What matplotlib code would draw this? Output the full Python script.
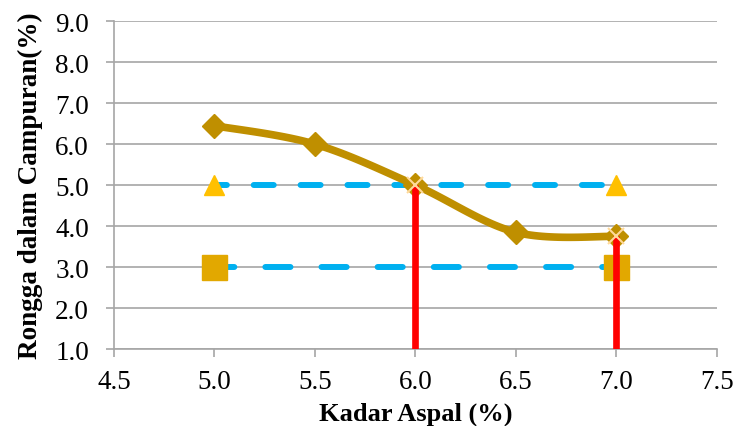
import numpy as np
import matplotlib.pyplot as plt

plt.rcParams['font.family'] = ['Liberation Serif', 'DejaVu Serif']

# data
kadar = [5.0, 5.5, 6.0, 6.5, 7.0]
rongga = [6.45, 6.0, 5.0, 3.85, 3.75]
batas_x = [5.0, 7.0]
batas_atas = [5.0, 5.0]
batas_bawah = [3.0, 3.0]
garis_x = [6.0, 7.0]
garis_y = [5.0, 3.75]


def smooth(xs, ys, n=30):
    # Excel-like smoothed line (Bezier with Catmull-Rom control points)
    p = np.column_stack([xs, ys])
    pts = []
    for i in range(len(p) - 1):
        p0 = p[i - 1] if i > 0 else p[i]
        p3 = p[i + 2] if i + 2 < len(p) else p[i + 1]
        c1 = p[i] + (p[i + 1] - p0) / 6
        c2 = p[i + 1] - (p3 - p[i]) / 6
        t = np.linspace(0, 1, n)[:, None]
        seg = ((1 - t) ** 3 * p[i] + 3 * (1 - t) ** 2 * t * c1
               + 3 * (1 - t) * t ** 2 * c2 + t ** 3 * p[i + 1])
        pts.append(seg if i == 0 else seg[1:])
    s = np.vstack(pts)
    return s[:, 0], s[:, 1]


fig = plt.figure(figsize=(7.35, 4.27), dpi=100)
ax = fig.add_axes([0.155, 0.180, 0.8205, 0.768])

ax.set_xlim(4.5, 7.5)
ax.set_ylim(1.0, 9.0)
ax.set_xticks(np.arange(4.5, 7.51, 0.5))
ax.set_yticks(np.arange(1.0, 9.01, 1.0))
ax.set_xticklabels([f"{v:.1f}" for v in np.arange(4.5, 7.51, 0.5)])
ax.set_yticklabels([f"{v:.1f}" for v in np.arange(1.0, 9.01, 1.0)])
ax.grid(axis='y', color='#a6a6a6', lw=1.2)
ax.set_axisbelow(True)
for s in ['top', 'right']:
    ax.spines[s].set_visible(False)
for s in ['left', 'bottom']:
    ax.spines[s].set_color('#a6a6a6')
    ax.spines[s].set_linewidth(1.2)
ax.tick_params(colors='#a6a6a6', labelcolor='black', labelsize=19.5, length=6, width=1.2)
ax.tick_params(axis='x', pad=8)
ax.tick_params(axis='y', pad=12)

# batas spesifikasi
ax.plot(batas_x, batas_atas, color='#00b0f0', lw=4.3, ls=(1.2, (3.35, 4.5)),
        dash_capstyle='round', zorder=2)
ax.plot(batas_x, batas_bawah, color='#00b0f0', lw=4.3, ls=(0.8, (4.2, 5.2)),
        dash_capstyle='round', zorder=2)
ax.plot(batas_x, batas_atas, ls='none', marker='^', ms=14, color='#ffc000', zorder=3)
ax.plot(batas_x, batas_bawah, ls='none', marker='s', ms=18, color='#e2a800', zorder=3)

# garis vertikal
for gx, gy in zip(garis_x, garis_y):
    ax.plot([gx, gx], [1.0, gy], color='#ff0000', lw=4.8, solid_capstyle='butt', zorder=4)

sx, sy = smooth(kadar, rongga)
ax.plot(sx, sy, color='#bf8f00', lw=5.5, zorder=3)
ax.plot(kadar, rongga, ls='none', marker='D', ms=12, color='#bf8f00', zorder=3)
ax.plot(garis_x, garis_y, ls='none', marker='x', ms=12, mew=1.5, color='#ffd999', zorder=5)

ax.set_xlabel('Kadar Aspal (%)', fontsize=19, fontweight='bold', labelpad=6)
ax.set_ylabel('Rongga dalam Campuran(%)', fontsize=19.5, fontweight='bold', labelpad=9)

fig.savefig('out.png', dpi=100)
